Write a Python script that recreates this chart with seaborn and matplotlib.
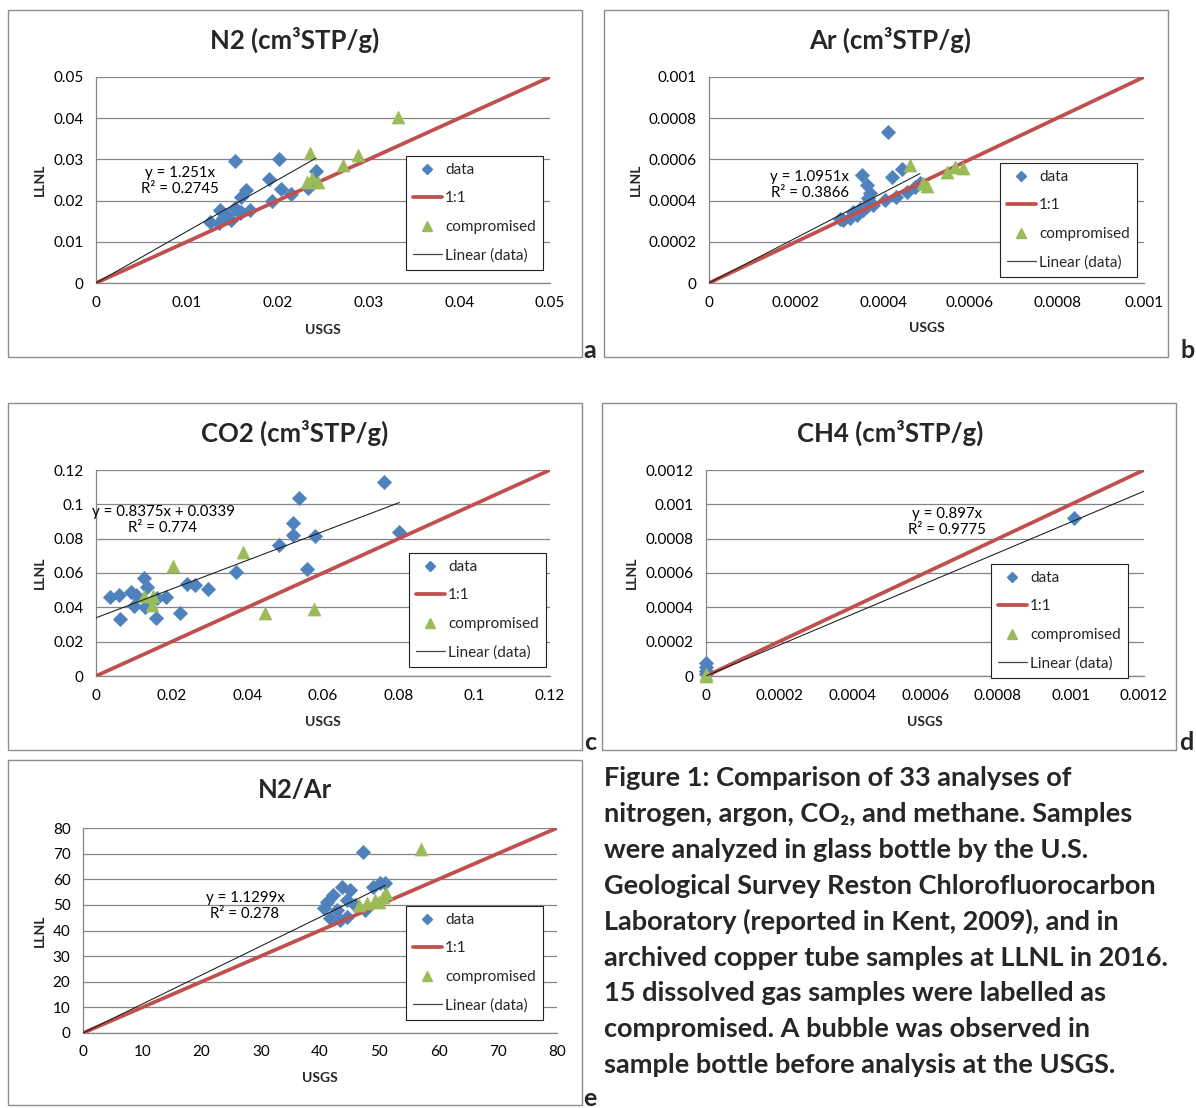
import numpy as np
import pandas as pd
import matplotlib
matplotlib.use("Agg")
import matplotlib.pyplot as plt
import seaborn as sns
from matplotlib.lines import Line2D
from matplotlib.patches import Rectangle

# ---------------- data ----------------
# N2 (cm3STP/g)
n2_data_usgs = [0.0153, 0.0202, 0.0242, 0.0190, 0.0165, 0.0160, 0.0204, 0.0215, 0.0194, 0.0233,
                0.0126, 0.0137, 0.0135, 0.0144, 0.0149, 0.0153, 0.0160, 0.0170, 0.0140, 0.0159]
n2_data_llnl = [0.0295, 0.0301, 0.0273, 0.0252, 0.0226, 0.0209, 0.0228, 0.0215, 0.0199, 0.0230,
                0.0148, 0.0177, 0.0145, 0.0165, 0.0153, 0.0181, 0.0173, 0.0177, 0.0157, 0.0171]
n2_comp_usgs = [0.0236, 0.0289, 0.0272, 0.0232, 0.0245, 0.0238, 0.0333]
n2_comp_llnl = [0.0315, 0.0311, 0.0286, 0.0246, 0.0246, 0.0254, 0.0403]
n2_slope, n2_icpt, n2_r2 = 1.251, 0.0, "0.2745"

# Ar (cm3STP/g)
ar_data_usgs = [0.000411, 0.000351, 0.000363, 0.000420, 0.000443, 0.000370, 0.000405, 0.000431,
                0.000455, 0.000474, 0.000485, 0.000378, 0.000355, 0.000340, 0.000324, 0.000309,
                0.000300, 0.000366, 0.000347, 0.000360, 0.000332]
ar_data_llnl = [0.000731, 0.000524, 0.000476, 0.000515, 0.000552, 0.000435, 0.000403, 0.000419,
                0.000443, 0.000467, 0.000484, 0.000379, 0.000354, 0.000330, 0.000314, 0.000306,
                0.000310, 0.000411, 0.000358, 0.000370, 0.000346]
ar_comp_usgs = [0.000462, 0.000493, 0.000546, 0.000566, 0.000585, 0.000500]
ar_comp_llnl = [0.000573, 0.000484, 0.000540, 0.000562, 0.000557, 0.000472]
ar_slope, ar_icpt, ar_r2 = 1.0951, 0.0, "0.3866"

# CO2 (cm3STP/g)
co2_data_usgs = [0.0762, 0.0537, 0.0520, 0.0520, 0.0579, 0.0802, 0.0484, 0.0559, 0.0370, 0.0297,
                 0.0241, 0.0262, 0.0222, 0.0185, 0.0160, 0.0158, 0.0128, 0.0134, 0.0106, 0.0092,
                 0.0101, 0.0130, 0.0062, 0.0037, 0.0063]
co2_data_llnl = [0.1128, 0.1035, 0.0889, 0.0821, 0.0816, 0.0841, 0.0763, 0.0623, 0.0608, 0.0507,
                 0.0536, 0.0530, 0.0369, 0.0458, 0.0452, 0.0340, 0.0569, 0.0520, 0.0472, 0.0491,
                 0.0408, 0.0400, 0.0472, 0.0458, 0.0332]
co2_comp_usgs = [0.0204, 0.0389, 0.0447, 0.0577, 0.0128, 0.0151, 0.0147]
co2_comp_llnl = [0.0643, 0.0724, 0.0365, 0.0388, 0.0466, 0.0466, 0.0414]
co2_slope, co2_icpt, co2_r2 = 0.8375, 0.0339, "0.774"

# CH4 (cm3STP/g)
ch4_data_usgs = [0.001008, 0.0, 0.0, 0.0, 0.0]
ch4_data_llnl = [0.000919, 0.000074, 0.000050, 0.000030, 0.000010]
ch4_comp_usgs = [0.0, 0.0]
ch4_comp_llnl = [0.0, 0.000010]
ch4_slope, ch4_icpt, ch4_r2 = 0.897, 0.0, "0.9775"

# N2/Ar
n2ar_data_usgs = [47.3, 43.7, 45.1, 42.2, 41.1, 40.6, 41.7, 42.8, 44.5, 44.5, 45.9, 47.6, 49.0, 50.1, 51.0, 43.4]
n2ar_data_llnl = [70.5, 57.1, 55.8, 53.9, 51.2, 48.7, 44.8, 48.0, 51.9, 45.4, 50.0, 48.0, 57.1, 58.4, 58.4, 44.1]
n2ar_comp_usgs = [57.0, 46.5, 47.9, 49.3, 50.7, 51.2, 49.9]
n2ar_comp_llnl = [71.8, 50.0, 50.6, 51.9, 53.2, 54.5, 51.3]
n2ar_slope, n2ar_icpt, n2ar_r2 = 1.1299, 0.0, "0.278"

# tick labels
ticks_n2 = ["0", "0.01", "0.02", "0.03", "0.04", "0.05"]
ticks_ar = ["0", "0.0002", "0.0004", "0.0006", "0.0008", "0.001"]
ticks_co2 = ["0", "0.02", "0.04", "0.06", "0.08", "0.1", "0.12"]
ticks_ch4 = ["0", "0.0002", "0.0004", "0.0006", "0.0008", "0.001", "0.0012"]
ticks_n2ar = ["0", "10", "20", "30", "40", "50", "60", "70", "80"]

caption_lines = [
    "Figure 1: Comparison of 33 analyses of",
    "nitrogen, argon, CO\u2082, and methane. Samples",
    "were analyzed in glass bottle by the U.S.",
    "Geological Survey Reston Chlorofluorocarbon",
    "Laboratory (reported in Kent, 2009), and in",
    "archived copper tube samples at LLNL in 2016.",
    "15 dissolved gas samples were labelled as",
    "compromised. A bubble was observed in",
    "sample bottle before analysis at the USGS.",
]

# ---------------- style ----------------
sns.set_style("white")
FONT = ['Lato', 'DejaVu Sans']
plt.rcParams['font.family'] = FONT

W, H = 1196, 1108
fig = plt.figure(figsize=(W / 100, H / 100), dpi=100)
fig.patch.set_facecolor("white")

BLUE = '#4F81BD'
GREEN = '#9BBB59'
RED = '#C0504D'
GRID = '#868686'
BORDER = '#8C8C8C'


def fx(x):
    return x / W


def fy(y):
    return 1 - y / H


panels = [
    dict(box=(8, 10, 582, 357), plot=(96, 77, 550, 283), title="N2 (cm\u00b3STP/g)", title_xy=(295, 40),
         du=n2_data_usgs, dl=n2_data_llnl, cu=n2_comp_usgs, cl=n2_comp_llnl,
         slope=n2_slope, icpt=n2_icpt, r2=n2_r2, ticks=ticks_n2, fit_to_edge=False,
         eq_xy=(180, 181), leg=(406, 156, 543, 270), ylab_x=40, xlab_y=330,
         letter="a", letter_xy=(590, 350)),
    dict(box=(604, 10, 1168, 357), plot=(709, 77, 1144, 283), title="Ar (cm\u00b3STP/g)", title_xy=(890, 40),
         du=ar_data_usgs, dl=ar_data_llnl, cu=ar_comp_usgs, cl=ar_comp_llnl,
         slope=ar_slope, icpt=ar_icpt, r2=ar_r2, ticks=ticks_ar, fit_to_edge=False,
         eq_xy=(810, 185), leg=(1000, 163, 1137, 277), ylab_x=636, xlab_y=328,
         letter="b", letter_xy=(1188, 350)),
    dict(box=(8, 403, 582, 750), plot=(96, 470, 550, 676), title="CO2 (cm\u00b3STP/g)", title_xy=(295, 433),
         du=co2_data_usgs, dl=co2_data_llnl, cu=co2_comp_usgs, cl=co2_comp_llnl,
         slope=co2_slope, icpt=co2_icpt, r2=co2_r2, ticks=ticks_co2, fit_to_edge=False,
         eq_xy=(163, 520), leg=(409, 553, 547, 667), ylab_x=40, xlab_y=722,
         letter="c", letter_xy=(590, 742)),
    dict(box=(602, 403, 1176, 750), plot=(706, 470, 1144, 676), title="CH4 (cm\u00b3STP/g)", title_xy=(890, 433),
         du=ch4_data_usgs, dl=ch4_data_llnl, cu=ch4_comp_usgs, cl=ch4_comp_llnl,
         slope=ch4_slope, icpt=ch4_icpt, r2=ch4_r2, ticks=ticks_ch4, fit_to_edge=True,
         eq_xy=(947, 522), leg=(991, 564, 1129, 669), ylab_x=632, xlab_y=722,
         letter="d", letter_xy=(1186, 742)),
    dict(box=(8, 760, 582, 1105), plot=(83, 828, 557, 1033), title="N2/Ar", title_xy=(295, 790),
         du=n2ar_data_usgs, dl=n2ar_data_llnl, cu=n2ar_comp_usgs, cl=n2ar_comp_llnl,
         slope=n2ar_slope, icpt=n2ar_icpt, r2=n2ar_r2, ticks=ticks_n2ar, fit_to_edge=False,
         eq_xy=(245, 906), leg=(406, 906, 543, 1020), ylab_x=40, xlab_y=1078,
         letter="e", letter_xy=(590, 1098)),
]

for p in panels:
    bx0, by0, bx1, by1 = p["box"]
    fig.patches.append(Rectangle((fx(bx0), fy(by1)), fx(bx1 - bx0), (by1 - by0) / H,
                                 transform=fig.transFigure, fill=False, edgecolor=BORDER,
                                 linewidth=1.0, zorder=0))
    px0, py0, px1, py1 = p["plot"]
    ax = fig.add_axes([fx(px0), fy(py1), fx(px1 - px0), (py1 - py0) / H])
    ax.set_facecolor("none")

    tick_vals = [float(t) for t in p["ticks"]]
    lim = tick_vals[-1]

    # data (blue diamonds)
    sns.scatterplot(x=p["du"], y=p["dl"], ax=ax, marker="D", s=55, color=BLUE,
                    edgecolor=BLUE, linewidth=0.3, zorder=3, clip_on=False, legend=False)
    # 1:1 line
    one = np.array([0.0, lim])
    sns.lineplot(x=one, y=one, ax=ax, color=RED, linewidth=2.7, zorder=4, legend=False,
                 estimator=None, sort=False)
    # compromised (green triangles)
    sns.scatterplot(x=p["cu"], y=p["cl"], ax=ax, marker="^", s=90, color=GREEN,
                    edgecolor=GREEN, linewidth=0.3, zorder=5, clip_on=False, legend=False)
    # linear trend (data)
    xmax = lim if p["fit_to_edge"] else max(p["du"])
    tx = np.array([0.0, xmax])
    ty = p["slope"] * tx + p["icpt"]
    sns.lineplot(x=tx, y=ty, ax=ax, color="#1a1a1a", linewidth=0.75, zorder=6, legend=False,
                 estimator=None, sort=False)

    ax.set_xlim(0, lim)
    ax.set_ylim(0, lim)
    ax.set_xticks(tick_vals)
    ax.set_xticklabels(p["ticks"])
    ax.set_yticks(tick_vals)
    ax.set_yticklabels(p["ticks"])
    ax.set_xlabel("")
    ax.set_ylabel("")
    for s in ["top", "right"]:
        ax.spines[s].set_visible(False)
    for s in ["left", "bottom"]:
        ax.spines[s].set_color(GRID)
        ax.spines[s].set_linewidth(0.9)
    ax.grid(axis="y", color=GRID, linewidth=0.9)
    ax.grid(axis="x", visible=False)
    ax.set_axisbelow(True)
    ax.tick_params(axis="both", direction="out", length=4, width=0.9, color=GRID,
                   labelsize=11, pad=5, labelcolor="black")

    # trend equation
    eqx, eqy = p["eq_xy"]
    if p["icpt"] != 0:
        eq = f"y = {p['slope']}x + {p['icpt']}"
    else:
        eq = f"y = {p['slope']}x"
    fig.text(fx(eqx), fy(eqy), eq + "\nR\u00b2 = " + p["r2"], ha="center", va="center",
             fontsize=10.8, linespacing=1.2, color="black")

    # legend
    lx0, ly0, lx1, ly1 = p["leg"]
    handles = [
        Line2D([], [], linestyle="none", marker="D", markersize=5.5, color=BLUE),
        Line2D([], [], color=RED, linewidth=2.7),
        Line2D([], [], linestyle="none", marker="^", markersize=7.5, color=GREEN),
        Line2D([], [], color="#444444", linewidth=0.9),
    ]
    leg = ax.legend(handles, ["data", "1:1", "compromised", "Linear (data)"],
                    loc="upper left", bbox_to_anchor=(fx(lx0), fy(ly0)),
                    bbox_transform=fig.transFigure, borderaxespad=0, frameon=True,
                    fancybox=False, edgecolor="#222222", fontsize=11, handlelength=1.9,
                    handletextpad=0.2, labelspacing=0.95, borderpad=0.45, framealpha=1)
    leg.get_frame().set_linewidth(0.8)

    # titles and axis labels
    tx_, ty_ = p["title_xy"]
    fig.text(fx(tx_), fy(ty_), p["title"], ha="center", va="center", fontsize=18.5,
             fontweight="bold")
    fig.text(fx((px0 + px1) / 2), fy(p["xlab_y"]), "USGS", ha="center", va="center",
             fontsize=10, fontweight="bold")
    fig.text(fx(p["ylab_x"]), fy((py0 + py1) / 2), "LLNL", ha="center", va="center",
             fontsize=10, fontweight="bold", rotation=90)
    lx, ly = p["letter_xy"]
    fig.text(fx(lx), fy(ly), p["letter"], ha="center", va="center", fontsize=18,
             fontweight="bold")

# caption
for i, line in enumerate(caption_lines):
    fig.text(fx(604), fy(778 + i * 35.9), line, ha="left", va="center", fontsize=19.5,
             fontweight="bold", family=FONT)

fig.savefig("out.png", dpi=100, facecolor="white")
